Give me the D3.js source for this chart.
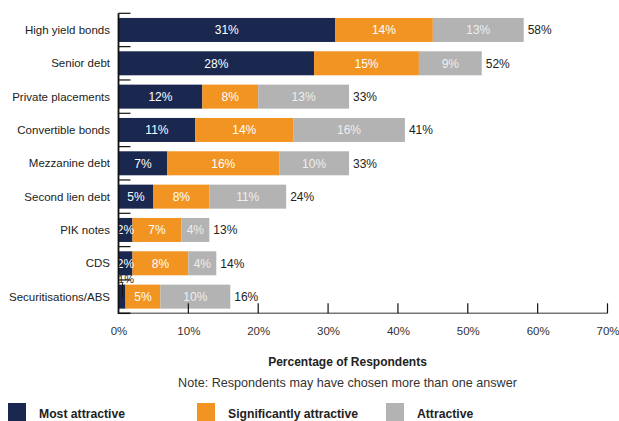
<!DOCTYPE html>
<html>
<head>
<meta charset="utf-8">
<script src="https://cdn.jsdelivr.net/npm/d3@7"></script>
<style>
  html, body { margin: 0; padding: 0; background: #fff; }
  svg { display: block; font-family: "Liberation Sans", Arial, sans-serif; }
</style>
</head>
<body>
<svg id="chart" width="619" height="421"></svg>
<script>
// Instrument categories, top to bottom
const categories = [
  "High yield bonds", "Senior debt", "Private placements", "Convertible bonds",
  "Mezzanine debt", "Second lien debt", "PIK notes", "CDS", "Securitisations/ABS"
];
// Share of respondents (%) per attractiveness level
const mostAttractive          = [31, 28, 12, 11, 7, 5, 2, 2, 1];
const significantlyAttractive = [14, 15, 8, 14, 16, 8, 7, 8, 5];
const attractive              = [13, 9, 13, 16, 10, 11, 4, 4, 10];
// Totals printed at the end of each bar
const totals = [58, 52, 33, 41, 33, 24, 13, 14, 16];

const seriesNames = ["Most attractive", "Significantly attractive", "Attractive"];
const seriesColors = ["#1a2850", "#f29422", "#b3b3b3"];
const labelColors = ["#ffffff", "#ffffff", "#eeeeee"];
const xTicks = [0, 10, 20, 30, 40, 50, 60, 70];

const svg = d3.select("#chart");
const plotLeft = 118.5, plotRight = 607.5, plotTop = 13.3, plotBottom = 313.3;

const x = d3.scaleLinear().domain([0, 70]).range([plotLeft, plotRight]);
const y = d3.scaleBand().domain(categories).range([plotTop, plotBottom]).paddingInner(0.28).paddingOuter(0.14);
const yOuter = d3.scaleBand().domain(categories).range([plotTop, plotBottom]);

const rows = categories.map((c, i) => ({
  cat: c,
  vals: [mostAttractive[i], significantlyAttractive[i], attractive[i]],
  total: totals[i]
}));
const stack = d3.stack().keys([0, 1, 2]).value((d, k) => d.vals[k]);
const layers = stack(rows);

// stacked bars
const g = svg.append("g");
layers.forEach((layer, k) => {
  g.selectAll(null).data(layer).join("rect")
    .attr("x", d => x(d[0]))
    .attr("y", d => y(d.data.cat))
    .attr("width", d => x(d[1]) - x(d[0]))
    .attr("height", y.bandwidth())
    .attr("fill", seriesColors[k]);
});

// value labels inside segments
layers.forEach((layer, k) => {
  layer.forEach(d => {
    const v = d.data.vals[k];
    const cx = (x(d[0]) + x(d[1])) / 2;
    const cy = y(d.data.cat) + y.bandwidth() / 2;
    if (v <= 1) {
      // too thin: label sits above the bar with a short leader
      const lx = x(d[0]) + 4;
      g.append("line")
        .attr("x1", lx).attr("x2", lx)
        .attr("y1", y(d.data.cat) - 1.5).attr("y2", cy + 1)
        .attr("stroke", "#111").attr("stroke-width", 1);
      g.append("text")
        .attr("x", x(d[0]) + 7.5).attr("y", y(d.data.cat) - 5)
        .attr("dy", "0.35em").attr("text-anchor", "middle")
        .attr("font-size", 11).attr("fill", "#333")
        .text(v + "%");
    } else {
      g.append("text")
        .attr("x", cx).attr("y", cy).attr("dy", "0.36em")
        .attr("text-anchor", "middle")
        .attr("font-size", 12).attr("fill", labelColors[k])
        .text(v + "%");
    }
  });
});

// totals
g.selectAll(null).data(rows).join("text")
  .attr("x", d => x(d.total) + 4)
  .attr("y", d => y(d.cat) + y.bandwidth() / 2)
  .attr("dy", "0.36em")
  .attr("font-size", 12).attr("fill", "#222")
  .text(d => d.total + "%");

// y axis: category labels and boundary ticks
const yAxis = svg.append("g");
yAxis.selectAll(null).data(categories).join("text")
  .attr("x", 110)
  .attr("y", d => y(d) + y.bandwidth() / 2)
  .attr("dy", "0.36em")
  .attr("text-anchor", "end")
  .attr("font-size", 11.5).attr("fill", "#222")
  .text(d => d);
yAxis.selectAll(null).data(categories).join("line")
  .attr("x1", plotLeft).attr("x2", plotLeft + 12)
  .attr("y1", d => yOuter(d)).attr("y2", d => yOuter(d))
  .attr("stroke", "#111").attr("stroke-width", 1.2);

// x axis with inward ticks
const xAxis = svg.append("g").attr("transform", `translate(0,${plotBottom})`)
  .call(d3.axisBottom(x).tickValues(xTicks).tickSize(0).tickPadding(14).tickFormat(d => d + "%"));
xAxis.select(".domain").remove();
xAxis.selectAll("text").attr("font-size", 11.5).attr("fill", "#333")
  .attr("font-family", "Liberation Sans, Arial, sans-serif");
svg.append("line")
  .attr("x1", plotLeft).attr("x2", plotRight).attr("y1", plotBottom).attr("y2", plotBottom)
  .attr("stroke", "#777").attr("stroke-width", 1.5);
svg.append("g").selectAll(null).data(xTicks.slice(1)).join("line")
  .attr("x1", d => x(d)).attr("x2", d => x(d))
  .attr("y1", plotBottom).attr("y2", plotBottom - 10)
  .attr("stroke", "#111").attr("stroke-width", 1.2);
svg.append("line")
  .attr("x1", plotLeft + 12).attr("x2", plotLeft).attr("y1", plotBottom).attr("y2", plotBottom)
  .attr("stroke", "#111").attr("stroke-width", 1.5);
svg.append("line")
  .attr("x1", plotLeft).attr("x2", plotLeft).attr("y1", plotTop).attr("y2", plotBottom + 0.75)
  .attr("stroke", "#111").attr("stroke-width", 1.8);

// axis title and note
svg.append("text").attr("x", 347.5).attr("y", 362).attr("dy", "0.35em")
  .attr("text-anchor", "middle").attr("font-size", 12).attr("font-weight", "bold")
  .attr("fill", "#222").text("Percentage of Respondents");
svg.append("text").attr("x", 347.5).attr("y", 383).attr("dy", "0.35em")
  .attr("text-anchor", "middle").attr("font-size", 12.6)
  .attr("fill", "#333").text("Note: Respondents may have chosen more than one answer");

// legend
const legendX = [8, 197, 386];
const legend = svg.append("g");
seriesNames.forEach((name, k) => {
  legend.append("rect").attr("x", legendX[k]).attr("y", 403)
    .attr("width", 18).attr("height", 18).attr("fill", seriesColors[k]);
  legend.append("text").attr("x", legendX[k] + 31).attr("y", 417.8)
    .attr("font-size", 12.2).attr("font-weight", "bold").attr("fill", "#222")
    .text(name);
});
</script>
</body>
</html>
